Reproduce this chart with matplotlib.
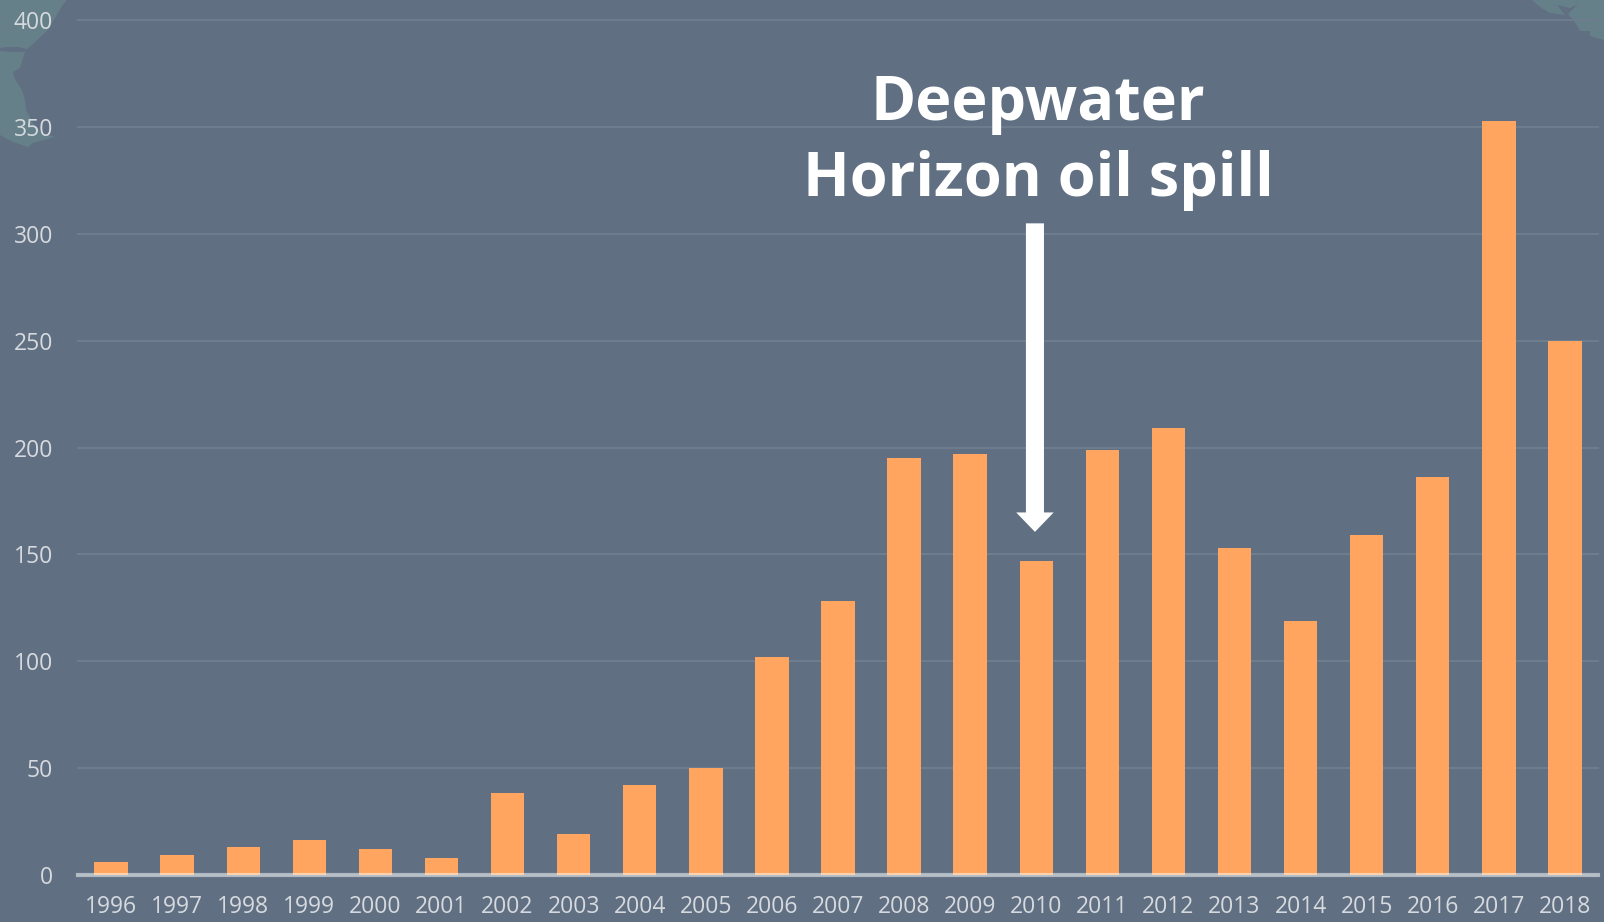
import matplotlib
matplotlib.use("Agg")
from matplotlib import pyplot as plt
from matplotlib.patches import Polygon
from matplotlib.transforms import Affine2D

years = [str(y) for y in range(1996, 2019)]
values = [6, 9, 13, 16, 12, 8, 38, 19, 42, 50, 102, 128, 195, 197, 147, 199, 209, 153, 119, 159, 186, 353, 250]
yticks = [0, 50, 100, 150, 200, 250, 300, 350, 400]
note = "Deepwater\nHorizon oil spill"

# background map outlines, in image pixels
land_left = [(0, 0), (67, 0), (62, 6), (48, 30), (33, 44), (27, 49), (18, 47), (8, 47), (0, 48)]
land_left2 = [(0, 51), (10, 52), (25, 52), (20, 68), (13, 72), (14, 77), (18, 84), (22, 90), (25, 100),
              (26, 110), (33, 123), (42, 133), (55, 137), (33, 143), (28, 147), (13, 142), (0, 135)]
land_right = [(1532, 0), (1540, 7), (1550, 13), (1565, 15), (1557, 5), (1570, 8), (1578, 4), (1568, 14),
              (1576, 24), (1580, 31), (1592, 31), (1598, 20), (1590, 32), (1590, 36), (1604, 40), (1604, 0)]

plt.rcParams['font.family'] = ['Open Sans', 'DejaVu Sans']

bg = '#606f82'
fig = plt.figure(figsize=(16.04, 9.22), dpi=100, facecolor=bg)
ax = fig.add_axes([78/1604, 1-874.6/922, (1598-78)/1604, (874.6-20.5)/922])
ax.set_facecolor('none')

pixels = Affine2D().scale(1/1604, -1/922).translate(0, 1) + fig.transFigure
for outline in [land_left, land_left2, land_right]:
    fig.add_artist(Polygon(outline, closed=True, facecolor='#66808a', edgecolor='none', transform=pixels, zorder=-5))

ax.bar(range(len(years)), values, width=0.505, color='#ffa55f', zorder=2)
ax.set_xlim(-0.5, len(years)-0.5)
ax.set_ylim(0, 400)

ax.set_yticks(yticks)
ax.set_xticks(range(len(years)))
ax.set_xticklabels(years)
ax.tick_params(axis='both', length=0, labelsize=16.5, labelcolor='#d6dadf')
ax.tick_params(axis='y', pad=18)
ax.tick_params(axis='x', pad=15)
for lab in ax.get_yticklabels():
    lab.set_clip_on(False)

ax.grid(axis='y', color='#6e7d8e', linewidth=1.5, zorder=1)
for line in ax.get_ygridlines():
    line.set_clip_on(False)
for s in ['top', 'right', 'left']:
    ax.spines[s].set_visible(False)
ax.spines['bottom'].set_color('white')
ax.spines['bottom'].set_alpha(0.5)
ax.spines['bottom'].set_linewidth(3)
ax.spines['bottom'].set_zorder(3)

ax.annotate('', xy=(13.98, 160.5), xytext=(13.98, 305), zorder=4,
            arrowprops=dict(facecolor='white', edgecolor='none', width=13, headwidth=27, headlength=14, shrink=0))
ax.text(14.03, 343, note, color='white', fontsize=44, fontweight='bold', ha='center', va='center', linespacing=1.32, zorder=4)

fig.savefig('out.png', dpi=100, facecolor=bg)
